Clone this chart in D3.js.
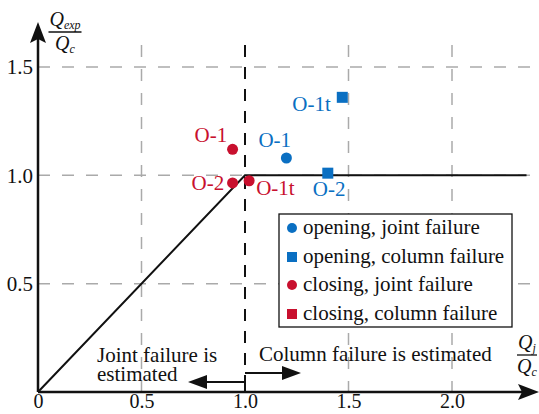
<!DOCTYPE html>
<html>
<head>
<meta charset="utf-8">
<script src="https://cdn.jsdelivr.net/npm/d3@7"></script>
<style>
  html, body { margin: 0; padding: 0; background: #fff; }
  svg { display: block; }
</style>
</head>
<body>
<svg id="chart" width="539" height="414"></svg>
<script>
// Specimen results: Qj/Qc (x) against Qexp/Qc (y)
const openingJoint   = [{ name: "O-1",  x: 1.20, y: 1.08 }];
const openingColumn  = [{ name: "O-1t", x: 1.47, y: 1.36 }, { name: "O-2", x: 1.40, y: 1.01 }];
const closingJoint   = [{ name: "O-1",  x: 0.94, y: 1.12 }, { name: "O-2", x: 0.94, y: 0.965 }, { name: "O-1t", x: 1.02, y: 0.975 }];
const closingColumn  = [];

// Failure-mode boundary: joint failure line up to 1.0, then column failure plateau
const boundary = [[0, 0], [1.0, 1.0], [2.36, 1.0]];

const xTicks = [0, 0.5, 1.0, 1.5, 2.0];
const xTickLabels = ["0", "0.5", "1.0", "1.5", "2.0"];
const yTicks = [0.5, 1.0, 1.5];
const yTickLabels = ["0.5", "1.0", "1.5"];

const legendItems = [
  { label: "opening, joint failure",  color: "#0a6fc2", shape: "circle" },
  { label: "opening, column failure", color: "#0a6fc2", shape: "square" },
  { label: "closing, joint failure",  color: "#c8102e", shape: "circle" },
  { label: "closing, column failure", color: "#c8102e", shape: "square" }
];

const BLUE = "#0a6fc2", RED = "#c8102e";
const FS = 21;

const svg = d3.select("#chart");
const x = d3.scaleLinear().domain([0, 2]).range([38, 452]);
const y = d3.scaleLinear().domain([0, 1.5]).range([392, 67]);

// Grid
const grid = svg.append("g").attr("stroke", "#aaa").attr("stroke-width", 1.5)
  .attr("stroke-dasharray", "12,12");
grid.selectAll("line.h").data(yTicks).join("line")
  .attr("x1", x(0)).attr("x2", 532)
  .attr("y1", d => y(d)).attr("y2", d => y(d));
grid.selectAll("line.v").data(xTicks.filter(d => d !== 0 && d !== 1.0)).join("line")
  .attr("x1", d => x(d)).attr("x2", d => x(d))
  .attr("y1", 45).attr("y2", y(0));

// Boundary at Qj/Qc = 1.0
svg.append("line")
  .attr("x1", x(1)).attr("x2", x(1)).attr("y1", 45).attr("y2", y(0) - 10)
  .attr("stroke", "#111").attr("stroke-width", 2).attr("stroke-dasharray", "12,10");

// Axis tick labels
const xAxis = d3.axisBottom(x).tickValues(xTicks).tickSize(0).tickPadding(2)
  .tickFormat((d, i) => xTickLabels[i]);
const gx = svg.append("g").attr("transform", `translate(0,${y(0)})`).call(xAxis);
gx.select(".domain").remove();
gx.selectAll("text").attr("font-size", 20);

const yAxis = d3.axisLeft(y).tickValues(yTicks).tickSize(0).tickPadding(5)
  .tickFormat((d, i) => yTickLabels[i]);
const gy = svg.append("g").attr("transform", `translate(${x(0)},0)`).call(yAxis);
gy.select(".domain").remove();
gy.selectAll("text").attr("font-size", FS);

// Axes with arrowheads
svg.append("line").attr("x1", x(0)).attr("x2", 522).attr("y1", y(0)).attr("y2", y(0))
  .attr("stroke", "#111").attr("stroke-width", 2.5);
svg.append("path").attr("d", `M539,${y(0)} L518,${y(0) - 8} L522,${y(0)} L518,${y(0) + 8} Z`).attr("fill", "#111");
svg.append("line").attr("x1", x(0)).attr("x2", x(0)).attr("y1", y(0)).attr("y2", 38)
  .attr("stroke", "#111").attr("stroke-width", 2.5);
svg.append("path").attr("d", `M${x(0)},22 L${x(0) - 8},43 L${x(0)},39 L${x(0) + 8},43 Z`).attr("fill", "#111");

// Axis titles (fractions)
function fraction(cx, top, num, numSub, den, denSub, barW) {
  const g = svg.append("g");
  const t1 = g.append("text").attr("x", cx).attr("y", top + 14).attr("text-anchor", "middle")
    .attr("font-size", 20).attr("font-style", "italic");
  t1.append("tspan").text(num);
  t1.append("tspan").attr("font-size", 12).attr("dy", 3).text(numSub);
  g.append("line").attr("x1", cx - barW / 2).attr("x2", cx + barW / 2)
    .attr("y1", top + 20).attr("y2", top + 20).attr("stroke", "#111").attr("stroke-width", 1.3);
  const t2 = g.append("text").attr("x", cx).attr("y", top + 38).attr("text-anchor", "middle")
    .attr("font-size", 20).attr("font-style", "italic");
  t2.append("tspan").text(den);
  t2.append("tspan").attr("font-size", 12).attr("dy", 3).text(denSub);
}
fraction(65, 12, "Q", "exp", "Q", "c", 33);
fraction(527, 335, "Q", "j", "Q", "c", 20);

// Boundary line
svg.append("path").datum(boundary)
  .attr("d", d3.line().x(d => x(d[0])).y(d => y(d[1])))
  .attr("fill", "none").attr("stroke", "#111").attr("stroke-width", 2);

// Region annotations with arrows
const ann = svg.append("g");
ann.append("path")
  .attr("d", `M${x(1)},${y(0)} L${x(1)},${y(0) - 10} L205,${y(0) - 10}`)
  .attr("fill", "none").attr("stroke", "#111").attr("stroke-width", 2);
ann.append("path").attr("d", `M188,${y(0) - 10} L207,${y(0) - 17} L207,${y(0) - 3} Z`).attr("fill", "#111");
ann.append("line").attr("x1", x(1)).attr("x2", 284).attr("y1", y(0) - 19).attr("y2", y(0) - 19)
  .attr("stroke", "#111").attr("stroke-width", 2);
ann.append("path").attr("d", `M301,${y(0) - 19} L282,${y(0) - 26} L282,${y(0) - 12} Z`).attr("fill", "#111");
ann.append("text").attr("x", 97).attr("y", 362).attr("font-size", FS).text("Joint failure is");
ann.append("text").attr("x", 97).attr("y", 381).attr("font-size", FS).text("estimated");
ann.append("text").attr("x", 259).attr("y", 361).attr("font-size", FS).text("Column failure is estimated");

// Markers
const R = 5.5, S = 11;
function circles(data, color) {
  svg.append("g").selectAll("circle").data(data).join("circle")
    .attr("cx", d => x(d.x)).attr("cy", d => y(d.y)).attr("r", R).attr("fill", color);
}
function squares(data, color) {
  svg.append("g").selectAll("rect").data(data).join("rect")
    .attr("x", d => x(d.x) - S / 2).attr("y", d => y(d.y) - S / 2)
    .attr("width", S).attr("height", S).attr("fill", color);
}
circles(openingJoint, BLUE);
squares(openingColumn, BLUE);
circles(closingJoint, RED);
squares(closingColumn, RED);

// Point labels (offsets relative to each marker)
const pointLabels = [
  { p: openingJoint[0],  dx: -28, dy: -11, color: BLUE },
  { p: openingColumn[0], dx: -50, dy: 14,  color: BLUE },
  { p: openingColumn[1], dx: -15, dy: 23,  color: BLUE },
  { p: closingJoint[0],  dx: -38, dy: -7,  color: RED },
  { p: closingJoint[1],  dx: -41, dy: 7,   color: RED },
  { p: closingJoint[2],  dx: 7,   dy: 14,  color: RED }
];
svg.append("g").selectAll("text").data(pointLabels).join("text")
  .attr("x", d => x(d.p.x) + d.dx).attr("y", d => y(d.p.y) + d.dy)
  .attr("font-size", FS).style("fill", d => d.color).text(d => d.p.name);

// Legend
const lg = svg.append("g").attr("transform", "translate(279,214)");
lg.append("rect").attr("width", 233).attr("height", 113)
  .attr("fill", "#fff").attr("stroke", "#111").attr("stroke-width", 1.3);
const rows = lg.selectAll("g").data(legendItems).join("g")
  .attr("transform", (d, i) => `translate(0,${14 + i * 28.5})`);
rows.filter(d => d.shape === "circle").append("circle")
  .attr("cx", 13).attr("cy", 0).attr("r", 5).attr("fill", d => d.color);
rows.filter(d => d.shape === "square").append("rect")
  .attr("x", 8).attr("y", -4.5).attr("width", 10).attr("height", 10).attr("fill", d => d.color);
rows.append("text").attr("x", 24).attr("y", 6).attr("font-size", FS).text(d => d.label);

// Serif face for every label
svg.selectAll("text").style("font-family", '"Liberation Serif"');
svg.selectAll("text").filter(function () { return !this.style.fill; }).style("fill", "#111");
</script>
</body>
</html>
